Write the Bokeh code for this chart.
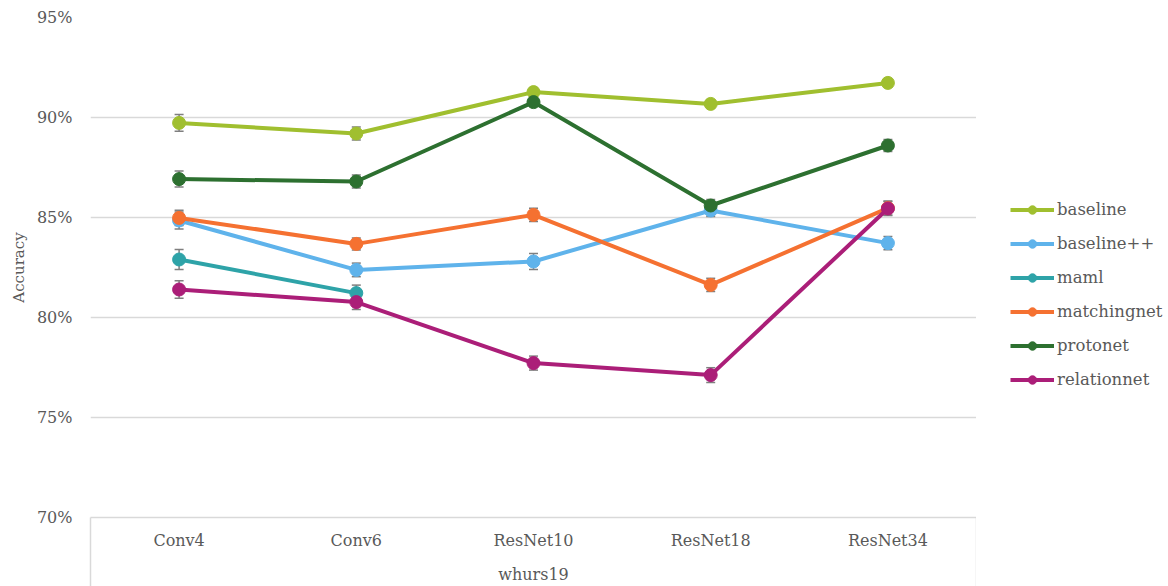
import numpy as np
from bokeh.plotting import figure
from bokeh.layouts import row
from bokeh.models import (Whisker, ColumnDataSource, Legend, LegendItem,
                          FixedTicker, PrintfTickFormatter, TeeHead, Range1d)
from bokeh.embed import file_html
from bokeh.resources import INLINE

categories = ["Conv4", "Conv6", "ResNet10", "ResNet18", "ResNet34"]
y_ticks = [70, 75, 80, 85, 90, 95]

series_names = ["baseline", "baseline++", "maml", "matchingnet", "protonet", "relationnet"]
baseline = [89.73, 89.20, 91.27, 90.68, 91.73]
baseline_pp = [84.85, 82.38, 82.80, 85.35, 83.72]
maml = [82.90, 81.22, np.nan, np.nan, np.nan]
matchingnet = [84.98, 83.68, 85.13, 81.63, 85.47]
protonet = [86.92, 86.80, 90.77, 85.60, 88.60]
relationnet = [81.40, 80.77, 77.72, 77.12, 85.45]

baseline_err = [0.42, 0.33, 0.20, 0.20, 0.20]
baseline_pp_err = [0.42, 0.34, 0.40, 0.30, 0.33]
maml_err = [0.50, 0.40, np.nan, np.nan, np.nan]
matchingnet_err = [0.38, 0.30, 0.33, 0.33, 0.35]
protonet_err = [0.40, 0.33, 0.20, 0.30, 0.30]
relationnet_err = [0.44, 0.37, 0.35, 0.37, 0.35]

values = [baseline, baseline_pp, maml, matchingnet, protonet, relationnet]
errors = [baseline_err, baseline_pp_err, maml_err, matchingnet_err, protonet_err, relationnet_err]
colors = ["#a0bf2f", "#5fb3eb", "#2ea3a8", "#f57131", "#2d7030", "#ab1e78"]

FONT = "DejaVu Serif"
TXT = "#595959"
GRID = "#d9d9d9"
BOX_DEPTH = 69

n = len(categories)
xpos = list(np.arange(n) + 0.5)

p = figure(width=976, height=586, x_range=Range1d(0, n), y_range=Range1d(70, 95),
           output_backend="svg", toolbar_location=None,
           min_border_left=90, min_border_right=0, min_border_top=17, min_border_bottom=69)
p.outline_line_color = None
p.background_fill_color = "white"
p.border_fill_color = "white"

p.xgrid.grid_line_color = None
p.ygrid.grid_line_color = GRID
p.ygrid.grid_line_width = 1.5
p.ygrid.ticker = FixedTicker(ticks=y_ticks)

p.yaxis.ticker = FixedTicker(ticks=y_ticks)
p.yaxis.formatter = PrintfTickFormatter(format="%d%%")
p.yaxis.axis_line_color = None
p.yaxis.major_tick_line_color = None
p.yaxis.minor_tick_line_color = None
p.yaxis.major_tick_out = 0
p.yaxis.major_tick_in = 0
p.yaxis.major_label_standoff = 18
p.yaxis.axis_label = "Accuracy"
p.yaxis.axis_label_standoff = 6
p.yaxis.axis_label_text_font_style = "normal"

# category axis: labels at category centres, box edges as long minor ticks
p.xaxis.ticker = FixedTicker(ticks=xpos, minor_ticks=[0, n])
p.xaxis.major_label_overrides = {float(x): c for x, c in zip(xpos, categories)}
p.xaxis.axis_line_color = GRID
p.xaxis.axis_line_width = 1.5
p.xaxis.major_tick_line_color = None
p.xaxis.major_tick_out = 0
p.xaxis.major_tick_in = 0
p.xaxis.minor_tick_line_color = GRID
p.xaxis.minor_tick_line_width = 1.5
p.xaxis.minor_tick_out = BOX_DEPTH
p.xaxis.minor_tick_in = 0
p.xaxis.major_label_standoff = 13 - BOX_DEPTH
p.xaxis.axis_label = "whurs19"
p.xaxis.axis_label_standoff = 12
p.xaxis.axis_label_text_font_style = "normal"

for ax in (p.xaxis, p.yaxis):
    ax.major_label_text_font = FONT
    ax.major_label_text_font_size = "16px"
    ax.major_label_text_color = TXT
    ax.axis_label_text_font = FONT
    ax.axis_label_text_font_size = "15px"
    ax.axis_label_text_color = TXT
p.xaxis.axis_label_text_font_size = "16px"

# legend panel (its own frame, so the legend is not clipped by the chart frame)
lp = figure(width=192, height=586, x_range=Range1d(0, 1), y_range=Range1d(0, 1),
            output_backend="svg", toolbar_location=None,
            x_axis_location=None, y_axis_location=None,
            min_border=0)
lp.outline_line_color = None
lp.grid.visible = False
lp.background_fill_color = "white"
lp.border_fill_color = "white"

items = []
for name, vals, errs, col in zip(series_names, values, errors, colors):
    v = np.array(vals, dtype=float)
    e = np.array(errs, dtype=float)
    src = ColumnDataSource(dict(x=xpos, y=v, upper=v + e, lower=v - e))
    w = Whisker(base="x", upper="upper", lower="lower", source=src,
                line_color="#7f7f7f", line_width=1.5,
                upper_head=TeeHead(size=9, line_color="#7f7f7f", line_width=1.5),
                lower_head=TeeHead(size=9, line_color="#7f7f7f", line_width=1.5))
    p.add_layout(w)
    p.line("x", "y", source=src, line_color=col, line_width=4)
    p.scatter("x", "y", source=src, size=13, fill_color=col, line_color=col)
    # legend swatches: same series, same styling, lying outside the legend panel's range
    ln = lp.line("x", "y", source=src, line_color=col, line_width=4)
    sc = lp.scatter("x", "y", source=src, size=13, fill_color=col, line_color=col)
    items.append(LegendItem(label=name, renderers=[ln, sc]))

legend = Legend(items=items, location=(34, 127), orientation="vertical",
                glyph_width=44, glyph_height=21, label_height=21, spacing=13,
                padding=0, margin=0, label_standoff=3,
                label_text_font=FONT, label_text_font_size="16.5px",
                label_text_color=TXT, border_line_color=None,
                background_fill_alpha=0)
lp.add_layout(legend)

layout = row(p, lp, spacing=0)
open("out.html", "w").write(file_html(layout, INLINE))
